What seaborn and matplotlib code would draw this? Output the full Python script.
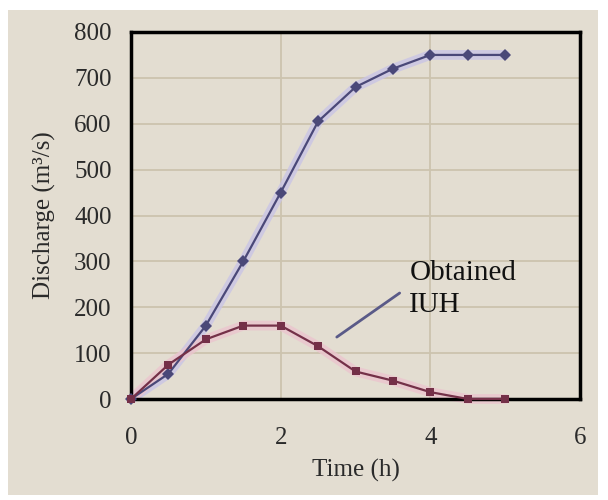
"""
plot.py - Obtained IUH vs S-curve discharge
"""

import matplotlib
matplotlib.use("Agg")
import matplotlib.pyplot as plt
from matplotlib.patches import Rectangle
import seaborn as sns
import pandas as pd

# data
time_h = [0, 0.5, 1, 1.5, 2, 2.5, 3, 3.5, 4, 4.5, 5]
s_curve = [0, 55, 160, 300, 450, 605, 680, 720, 750, 750, 750]
iuh = [0, 75, 130, 160, 160, 115, 60, 40, 15, 0, 0]

x_ticks = [0, 2, 4, 6]
y_ticks = [0, 100, 200, 300, 400, 500, 600, 700, 800]

BG = "#E3DDD1"
GRID = "#CCC3AE"
BLUE = "#4A4878"
RED = "#743048"
TXT = "#2A2A2A"

sns.set_theme(style="white")
plt.rcParams["font.family"] = ["Liberation Serif", "DejaVu Serif"]

df = pd.DataFrame({"time": time_h, "S-curve": s_curve, "IUH": iuh})

fig = plt.figure(figsize=(6.08, 5.0), dpi=100, facecolor="white")
fig.patches.append(Rectangle((8 / 608, 5 / 500), 590 / 608, 485 / 500,
                             transform=fig.transFigure, facecolor=BG,
                             edgecolor="none", zorder=-10))
ax = fig.add_axes([131 / 608, 101 / 500, 449 / 608, 367 / 500])
ax.set_facecolor(BG)

# soft glow under each line
ax.plot(df["time"], df["S-curve"], color="#C9C4E6", lw=7, alpha=0.8,
        solid_capstyle="round", zorder=2, clip_on=False)
ax.plot(df["time"], df["IUH"], color="#EBC4CE", lw=7, alpha=0.8,
        solid_capstyle="round", zorder=2, clip_on=False)

sns.lineplot(data=df, x="time", y="S-curve", color=BLUE, lw=1.6,
             marker="D", markersize=6, markeredgewidth=0, ax=ax, zorder=3)
sns.lineplot(data=df, x="time", y="IUH", color=RED, lw=1.6,
             marker="s", markersize=5.5, markeredgewidth=0, ax=ax, zorder=4)
for line in ax.lines:
    line.set_clip_on(False)

ax.set_xlim(0, 6)
ax.set_ylim(0, 800)
ax.set_xticks(x_ticks)
ax.set_yticks(y_ticks)
ax.grid(True, color=GRID, lw=1.3)
ax.set_axisbelow(True)
for sp in ax.spines.values():
    sp.set_color("black")
    sp.set_linewidth(2.5)
ax.tick_params(axis="both", length=0, labelsize=18, colors=TXT)
ax.tick_params(axis="x", pad=20)
ax.tick_params(axis="y", pad=14)

ax.set_xlabel("Time (h)", fontsize=18, color=TXT, labelpad=7)
ax.set_ylabel("Discharge (m³/s)", fontsize=18, color=TXT, labelpad=13)

# label and leader line
ax.annotate("", xy=(2.75, 135), xytext=(3.59, 231),
            arrowprops=dict(arrowstyle="-", color="#5A5A88", lw=2,
                            shrinkA=0, shrinkB=0))
ax.text(3.72, 240, "Obtained\nIUH", fontsize=21, color="#111111",
        va="center", ha="left", linespacing=1.3)

fig.savefig("out.png", dpi=100, facecolor=fig.get_facecolor())
